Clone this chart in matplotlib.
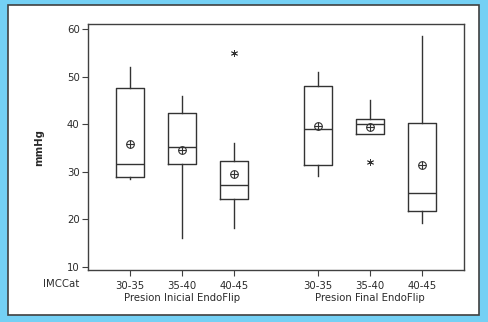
import matplotlib
matplotlib.use("Agg")
import matplotlib.pyplot as plt
from matplotlib.patches import Rectangle

categories = ["30-35", "35-40", "40-45"]
groups = ["Presion Inicial EndoFlip", "Presion Final EndoFlip"]
var_label = "IMCCat"

# per box: whislo, q1, med, q3, whishi, mean, outliers
whislo = [28.5, 16.1, 18.1, 29.1, 38.0, 19.2]
q1     = [28.8, 31.6, 24.3, 31.4, 38.0, 21.7]
med    = [31.6, 35.2, 27.1, 39.0, 40.0, 25.6]
q3     = [47.5, 42.3, 32.3, 48.1, 41.1, 40.3]
whishi = [52.0, 46.0, 36.1, 50.9, 45.1, 58.6]
means  = [35.9, 34.6, 29.6, 39.5, 39.3, 31.3]
fliers = [[], [], [55.0], [], [32.0], []]

positions = [1, 2, 3, 4.6, 5.6, 6.6]

plt.rcParams['font.family'] = ['DejaVu Sans']
fs = 7.3
tc = "#2a2a2a"

fig = plt.figure(figsize=(4.88, 3.22), dpi=100)
fig.patch.set_facecolor("#74d0f4")
W, H = 488, 322
panel = Rectangle((8 / W, (H - 315) / H), (479 - 8) / W, (315 - 5) / H,
                  transform=fig.transFigure, facecolor="white",
                  edgecolor="#404040", linewidth=1.2, zorder=-10)
fig.patches.append(panel)

ax = fig.add_axes([88 / W, (H - 270) / H, (464 - 88) / W, (270 - 24) / H])
ax.set_zorder(5)
ax.set_facecolor("white")

stats = []
for i in range(len(positions)):
    stats.append(dict(whislo=whislo[i], q1=q1[i], med=med[i], q3=q3[i],
                      whishi=whishi[i], mean=means[i], fliers=fliers[i]))

lc = "#333333"
ax.bxp(stats, positions=positions, widths=0.54, showmeans=False,
       showcaps=False, showfliers=True,
       boxprops=dict(color=lc, linewidth=1.0),
       whiskerprops=dict(color=lc, linewidth=1.0),
       medianprops=dict(color=lc, linewidth=1.0),
       flierprops=dict(marker=(6, 2, 0), markersize=5, markeredgecolor=lc,
                       markeredgewidth=0.6, linestyle="none"))
ax.plot(positions, means, linestyle="none", marker="o", markersize=5.5,
        markerfacecolor="none", markeredgecolor=lc, markeredgewidth=0.8)
ax.plot(positions, means, linestyle="none", marker="+", markersize=5.5,
        markeredgecolor=lc, markeredgewidth=0.8)

ax.set_xlim(0.19, 7.41)
ax.set_ylim(9.3, 61.05)
ax.set_yticks([10, 20, 30, 40, 50, 60])
ax.set_xticks(positions)
ax.set_xticklabels(categories * 2)
for s in ax.spines.values():
    s.set_color("#404040")
    s.set_linewidth(1.0)
ax.tick_params(axis="both", direction="out", length=4, width=0.8,
               color="#404040", labelsize=fs, labelcolor=tc, pad=2)
ax.tick_params(axis="x", pad=4)

ax.set_ylabel("mmHg", fontsize=fs, fontweight="bold", color=tc, labelpad=16)

fig.text(61 / W, 1 - 284 / H, var_label, ha="center", va="center",
         fontsize=fs, color=tc)
fig.text(182.3 / W, 1 - 297.7 / H, groups[0], ha="center", va="center",
         fontsize=fs, color=tc)
fig.text(370 / W, 1 - 297.7 / H, groups[1], ha="center", va="center",
         fontsize=fs, color=tc)

fig.savefig("out.png", dpi=100, facecolor=fig.get_facecolor())
